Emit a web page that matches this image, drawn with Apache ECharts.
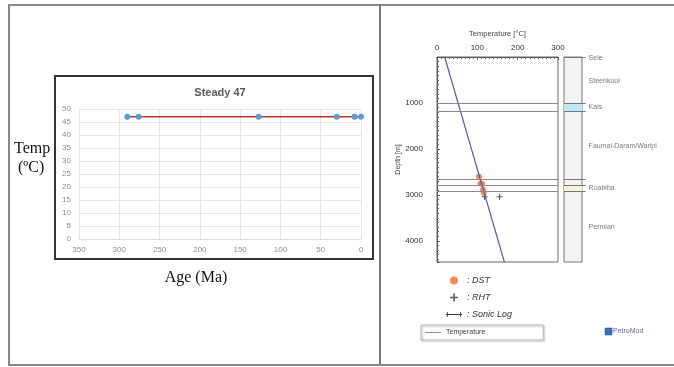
<!DOCTYPE html>
<html>
<head>
<meta charset="utf-8">
<script src="https://cdn.jsdelivr.net/npm/echarts@6/dist/echarts.min.js"></script>
<style>
  html, body { margin: 0; padding: 0; background: #fff; }
  #main { width: 674px; height: 367px; }
</style>
</head>
<body>
<div id="main"></div>
<script>
// left: Steady 47 history
const ages = [290, 276, 127, 30, 8, 0]
const temps = [47, 47, 47, 47, 47, 47]

// right: PetroMod depth plot
const gradDepths = [0, 4460]
const gradTemps = [19, 167]
const dstDepths = [2600, 2745, 2765, 2885, 2955]
const dstTemps = [104, 108, 112, 114, 116]
const rhtDepths = [3040, 3040]
const rhtTemps = [118, 155]
const boundaries = [0, 1000, 1180, 2670, 2790, 2920]
const formations = ['Sele', 'Steenkool', 'Kais', 'Faumai-Daram/Waripi', 'Roabiba', 'Permian']
const formationDepths = [15, 530, 1080, 1945, 2860, 3700]
const kais = [1000, 1180]
const roabiba = [2790, 2920]

const plusPath = 'path://M4,0h2v10h-2zM0,4h10v2h-10z'
const sonicPath = 'path://M0,4H20V5H0ZM1.5,1.5H2.5V7.5H1.5ZM17.5,1.5H18.5V7.5H17.5Z'
const linePath = 'path://M0,0H20V1H0Z'
const sans = 'Liberation Sans, Arial, sans-serif'

const chart = echarts.init(document.getElementById('main'))
chart.setOption({
  animation: false,
  textStyle: { fontFamily: sans },
  title: {
    text: 'Steady 47',
    left: 215,
    top: 82,
    textAlign: 'center',
    textStyle: { fontSize: 11, fontWeight: 'bold', color: '#595959', fontFamily: sans }
  },
  graphic: [
    { type: 'rect', z: -10, shape: { x: 9, y: 5, width: 700, height: 360 }, style: { fill: 'none', stroke: '#888', lineWidth: 2 } },
    { type: 'line', z: -10, shape: { x1: 380, y1: 5, x2: 380, y2: 365 }, style: { stroke: '#777', lineWidth: 2 } },
    { type: 'rect', z: -10, shape: { x: 55, y: 76, width: 318, height: 183 }, style: { fill: 'none', stroke: '#333', lineWidth: 2 } },
    { type: 'text', left: 14, top: 141, style: { text: 'Temp', font: '16px Liberation Serif', fill: '#111' } },
    { type: 'text', left: 18, top: 160, style: { text: '(ºC)', font: '16px Liberation Serif', fill: '#111' } },
    { type: 'rect', shape: { x: 605, y: 328, width: 7, height: 7 }, style: { fill: '#3a6fc0', stroke: '#24508f', lineWidth: 0.5 } },
    { type: 'text', left: 613, top: 328, style: { text: 'PetroMod', font: '7px ' + sans, fill: '#5a7090' } }
  ],
  legend: [
    {
      data: [
        { name: 'DST', icon: 'circle' },
        { name: 'RHT', icon: plusPath },
        { name: 'Sonic Log', icon: sonicPath }
      ],
      orient: 'vertical',
      left: 441,
      top: 271,
      itemWidth: 16,
      itemHeight: 8,
      itemGap: 8,
      selectedMode: false,
      formatter: ': {name}',
      textStyle: { fontSize: 9, fontStyle: 'italic', color: '#333', fontFamily: sans }
    },
    {
      data: [{ name: 'Temperature', icon: linePath }],
      left: 421,
      top: 325,
      itemWidth: 16,
      itemHeight: 1,
      padding: [4, 58, 4, 4],
      borderColor: '#bbb',
      borderWidth: 1,
      shadowColor: 'rgba(0,0,0,0.35)',
      shadowBlur: 2,
      shadowOffsetX: 1,
      shadowOffsetY: 1,
      selectedMode: false,
      textStyle: { fontSize: 7, color: '#444', fontFamily: sans }
    }
  ],
  grid: [
    { left: 79, right: 313, top: 109, bottom: 128 },
    { left: 437, width: 121, top: 57, bottom: 105, show: true, borderColor: '#666', borderWidth: 1 },
    { left: 564, width: 21.6, top: 57, bottom: 105 }
  ],
  xAxis: [
    {
      gridIndex: 0,
      type: 'value',
      min: 0,
      max: 350,
      interval: 50,
      inverse: true,
      name: 'Age (Ma)',
      nameLocation: 'middle',
      nameGap: 31,
      nameTextStyle: { fontFamily: 'Liberation Serif', fontSize: 16, color: '#111', padding: [0, 48, 0, 0] },
      axisLine: { lineStyle: { color: '#d9d9d9' } },
      axisTick: { show: false },
      axisLabel: { fontSize: 8, color: '#8c8c8c', margin: 7 },
      splitLine: { show: true, lineStyle: { color: '#e6e6e6' } }
    },
    {
      gridIndex: 1,
      type: 'value',
      position: 'top',
      min: 0,
      max: 300,
      interval: 100,
      name: 'Temperature [°C]',
      nameLocation: 'middle',
      nameGap: 19,
      nameTextStyle: { fontSize: 7.5, color: '#444' },
      axisLine: { show: true, lineStyle: { color: '#555' } },
      axisTick: { show: true, inside: true, length: 3, lineStyle: { color: '#555' } },
      minorTick: { show: true, splitNumber: 10, length: 2, lineStyle: { color: '#666' } },
      axisLabel: { fontSize: 8, color: '#333', margin: 5 },
      splitLine: { show: false }
    },
    {
      gridIndex: 2,
      type: 'value',
      min: 0,
      max: 1.2,
      show: false
    }
  ],
  yAxis: [
    {
      gridIndex: 0,
      type: 'value',
      min: 0,
      max: 50,
      interval: 5,
      axisLine: { show: false },
      axisTick: { show: false },
      axisLabel: { fontSize: 8, color: '#8c8c8c', margin: 8 },
      splitLine: { lineStyle: { color: '#e6e6e6' } }
    },
    {
      gridIndex: 1,
      type: 'value',
      inverse: true,
      min: 0,
      max: 4460,
      interval: 1000,
      name: 'Depth [m]',
      nameLocation: 'middle',
      nameGap: 33,
      nameRotate: 90,
      nameTextStyle: { fontSize: 7, color: '#444' },
      axisLine: { show: true, lineStyle: { color: '#555' } },
      axisTick: { show: true, inside: true, length: 3, lineStyle: { color: '#555' } },
      minorTick: { show: true, splitNumber: 10, length: 2, lineStyle: { color: '#666' } },
      axisLabel: {
        fontSize: 8,
        color: '#333',
        margin: 14,
        showMinLabel: false,
        showMaxLabel: false,
        formatter: v => (v > 0 && v % 1000 === 0) ? String(v) : ''
      },
      splitLine: { show: false }
    },
    {
      gridIndex: 2,
      type: 'value',
      inverse: true,
      min: 0,
      max: 4460,
      show: false
    }
  ],
  series: [
    {
      name: 'Steady 47',
      type: 'line',
      xAxisIndex: 0,
      yAxisIndex: 0,
      data: ages.map((a, i) => [a, temps[i]]),
      symbol: 'circle',
      symbolSize: 6,
      lineStyle: { color: '#c0302a', width: 1.5 },
      itemStyle: { color: '#5b9bd5' }
    },
    {
      name: 'Temperature',
      type: 'line',
      xAxisIndex: 1,
      yAxisIndex: 1,
      data: gradDepths.map((d, i) => [gradTemps[i], d]),
      showSymbol: false,
      symbol: 'none',
      color: '#6a6ab8',
      lineStyle: { color: '#5a5aaa', width: 1.2 },
      markLine: {
        silent: true,
        symbol: 'none',
        label: { show: false },
        lineStyle: { color: '#8a8a8a', width: 1, type: 'solid' },
        data: boundaries.slice(1).map(d => ({ yAxis: d }))
      }
    },
    {
      name: 'DST',
      type: 'scatter',
      xAxisIndex: 1,
      yAxisIndex: 1,
      data: dstDepths.map((d, i) => [dstTemps[i], d]),
      symbol: 'circle',
      symbolSize: 6,
      itemStyle: { color: '#f07030' }
    },
    {
      name: 'RHT',
      type: 'scatter',
      xAxisIndex: 1,
      yAxisIndex: 1,
      data: rhtDepths.map((d, i) => [rhtTemps[i], d]),
      symbol: plusPath,
      symbolSize: 6,
      itemStyle: { color: '#333' }
    },
    {
      name: 'Sonic Log',
      type: 'line',
      xAxisIndex: 1,
      yAxisIndex: 1,
      data: [],
      color: '#333'
    },
    {
      name: 'Formations',
      type: 'scatter',
      xAxisIndex: 2,
      yAxisIndex: 2,
      symbolSize: 0,
      data: formations.map((f, i) => ({ name: f, value: [1.2, formationDepths[i]] })),
      label: {
        show: true,
        position: 'right',
        distance: 3,
        formatter: '{b}',
        fontSize: 7,
        color: '#555'
      },
      markArea: {
        silent: true,
        data: [
          [{ coord: [0, 0], itemStyle: { color: '#f3f3f3', borderColor: '#777', borderWidth: 1 } }, { coord: [1, 4460] }],
          [{ coord: [0, kais[0]], itemStyle: { color: '#c3e6f4' } }, { coord: [1, kais[1]] }],
          [{ coord: [0, roabiba[0]], itemStyle: { color: '#f5f5d6' } }, { coord: [1, roabiba[1]] }]
        ]
      },
      markLine: {
        silent: true,
        symbol: 'none',
        label: { show: false },
        lineStyle: { color: '#777', width: 1, type: 'solid' },
        data: boundaries.map(d => [{ coord: [0, d] }, { coord: [1.2, d] }])
      }
    }
  ]
})
</script>
</body>
</html>
